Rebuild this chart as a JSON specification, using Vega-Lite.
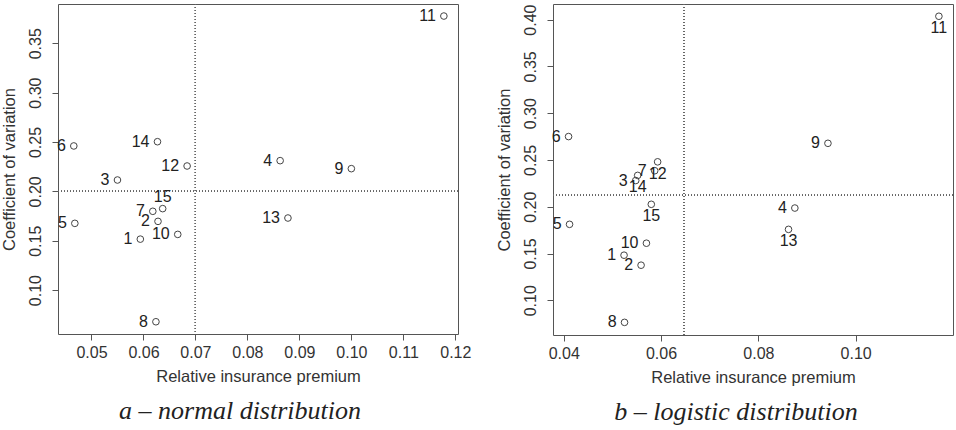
{
  "$schema": "https://vega.github.io/schema/vega-lite/v6.json",
  "padding": {"left": 0, "top": 3, "right": 2, "bottom": 0},
  "background": "white",
  "spacing": 23,
  "config": {
    "view": {"stroke": "#555555", "strokeWidth": 1},
    "font": "Liberation Sans",
    "axis": {
      "grid": false, "domain": false, "tickColor": "#555555", "tickSize": 6,
      "labelFont": "Liberation Sans", "labelFontSize": 16, "labelColor": "#333333",
      "titleFont": "Liberation Sans", "titleFontSize": 16.5, "titleFontWeight": "normal", "titleColor": "#333333"
    },
    "axisX": {"labelPadding": 4, "titlePadding": 8, "labelFlush": false, "labelOverlap": false},
    "axisY": {"labelAngle": -90, "labelAlign": "center", "labelBaseline": "bottom", "labelPadding": 9, "titlePadding": 10, "labelOverlap": false},
    "title": {"orient": "bottom", "font": "Liberation Serif", "fontStyle": "italic", "fontSize": 26, "fontWeight": "normal", "color": "#222222", "offset": 13}
  },
  "datasets": {
    "normal": [
      {"id": 1, "premium": 0.0594, "cv": 0.1516},
      {"id": 2, "premium": 0.0628, "cv": 0.1696},
      {"id": 3, "premium": 0.0550, "cv": 0.2115},
      {"id": 4, "premium": 0.0863, "cv": 0.2311},
      {"id": 5, "premium": 0.0468, "cv": 0.1676},
      {"id": 6, "premium": 0.0466, "cv": 0.2460},
      {"id": 7, "premium": 0.0618, "cv": 0.1798},
      {"id": 8, "premium": 0.0624, "cv": 0.0679},
      {"id": 9, "premium": 0.1000, "cv": 0.2230},
      {"id": 10, "premium": 0.0666, "cv": 0.1564},
      {"id": 11, "premium": 0.1178, "cv": 0.3776},
      {"id": 12, "premium": 0.0684, "cv": 0.2257},
      {"id": 13, "premium": 0.0878, "cv": 0.1730},
      {"id": 14, "premium": 0.0627, "cv": 0.2503},
      {"id": 15, "premium": 0.0637, "cv": 0.1825}
    ],
    "logistic": [
      {"id": 1, "premium": 0.0524, "cv": 0.1482},
      {"id": 2, "premium": 0.0559, "cv": 0.1375},
      {"id": 3, "premium": 0.0548, "cv": 0.2280},
      {"id": 4, "premium": 0.0875, "cv": 0.1986},
      {"id": 5, "premium": 0.0412, "cv": 0.1812},
      {"id": 6, "premium": 0.0410, "cv": 0.2750},
      {"id": 7, "premium": 0.0587, "cv": 0.2385},
      {"id": 8, "premium": 0.0525, "cv": 0.0764},
      {"id": 9, "premium": 0.0943, "cv": 0.2678},
      {"id": 10, "premium": 0.0570, "cv": 0.1610},
      {"id": 11, "premium": 0.1171, "cv": 0.4036},
      {"id": 12, "premium": 0.0593, "cv": 0.2480},
      {"id": 13, "premium": 0.0862, "cv": 0.1758},
      {"id": 14, "premium": 0.0552, "cv": 0.2335},
      {"id": 15, "premium": 0.0580, "cv": 0.2026}
    ]
  },
  "hconcat": [
    {
      "width": 400, "height": 330,
      "title": {"text": "a – normal distribution", "dx": -18},
      "data": {"name": "normal"},
      "encoding": {
        "x": {"field": "premium", "type": "quantitative", "title": "Relative insurance premium",
              "scale": {"domain": [0.04356, 0.12052], "nice": false, "zero": false},
              "axis": {"values": [0.05, 0.06, 0.07, 0.08, 0.09, 0.10, 0.11, 0.12], "format": ".2f"}},
        "y": {"field": "cv", "type": "quantitative", "title": "Coefficient of variation",
              "scale": {"domain": [0.0555, 0.3898], "nice": false, "zero": false},
              "axis": {"values": [0.10, 0.15, 0.20, 0.25, 0.30, 0.35], "format": ".2f"}}
      },
      "layer": [
        {"mark": {"type": "rule", "color": "#666666", "strokeDash": [1, 2], "strokeWidth": 1}, "encoding": {"x": {"datum": 0.07}, "y": null}},
        {"mark": {"type": "rule", "color": "#666666", "strokeDash": [1, 2], "strokeWidth": 1}, "encoding": {"y": {"datum": 0.2}, "x": null}},
        {"mark": {"type": "point", "shape": "circle", "filled": false, "size": 44, "stroke": "#444444", "strokeWidth": 1, "opacity": 1}},
        {"transform": [{"filter": "datum.id != 15"}],
         "mark": {"type": "text", "align": "right", "baseline": "middle", "dx": -8, "fontSize": 16, "color": "#222222"},
         "encoding": {"text": {"field": "id", "type": "nominal"}}},
        {"transform": [{"filter": "datum.id == 15"}],
         "mark": {"type": "text", "align": "center", "baseline": "middle", "dy": -12, "fontSize": 16, "color": "#222222"},
         "encoding": {"text": {"field": "id", "type": "nominal"}}}
      ]
    },
    {
      "width": 400, "height": 331,
      "title": {"text": "b – logistic distribution", "dx": -17},
      "data": {"name": "logistic"},
      "encoding": {
        "x": {"field": "premium", "type": "quantitative", "title": "Relative insurance premium",
              "scale": {"domain": [0.0378, 0.12], "nice": false, "zero": false},
              "axis": {"values": [0.04, 0.06, 0.08, 0.10], "format": ".2f"}},
        "y": {"field": "cv", "type": "quantitative", "title": "Coefficient of variation",
              "scale": {"domain": [0.0629, 0.4167], "nice": false, "zero": false},
              "axis": {"values": [0.10, 0.15, 0.20, 0.25, 0.30, 0.35, 0.40], "format": ".2f"}}
      },
      "layer": [
        {"mark": {"type": "rule", "color": "#666666", "strokeDash": [1, 2], "strokeWidth": 1}, "encoding": {"x": {"datum": 0.0647}, "y": null}},
        {"mark": {"type": "rule", "color": "#666666", "strokeDash": [1, 2], "strokeWidth": 1}, "encoding": {"y": {"datum": 0.2122}, "x": null}},
        {"mark": {"type": "point", "shape": "circle", "filled": false, "size": 44, "stroke": "#444444", "strokeWidth": 1, "opacity": 1}},
        {"transform": [{"filter": "indexof([11, 12, 13, 14, 15], datum.id) < 0"}],
         "mark": {"type": "text", "align": "right", "baseline": "middle", "dx": -8, "fontSize": 16, "color": "#222222"},
         "encoding": {"text": {"field": "id", "type": "nominal"}}},
        {"transform": [{"filter": "indexof([11, 12, 13, 14, 15], datum.id) >= 0"}],
         "mark": {"type": "text", "align": "center", "baseline": "middle", "dy": 12, "fontSize": 16, "color": "#222222"},
         "encoding": {"text": {"field": "id", "type": "nominal"}}}
      ]
    }
  ]
}
